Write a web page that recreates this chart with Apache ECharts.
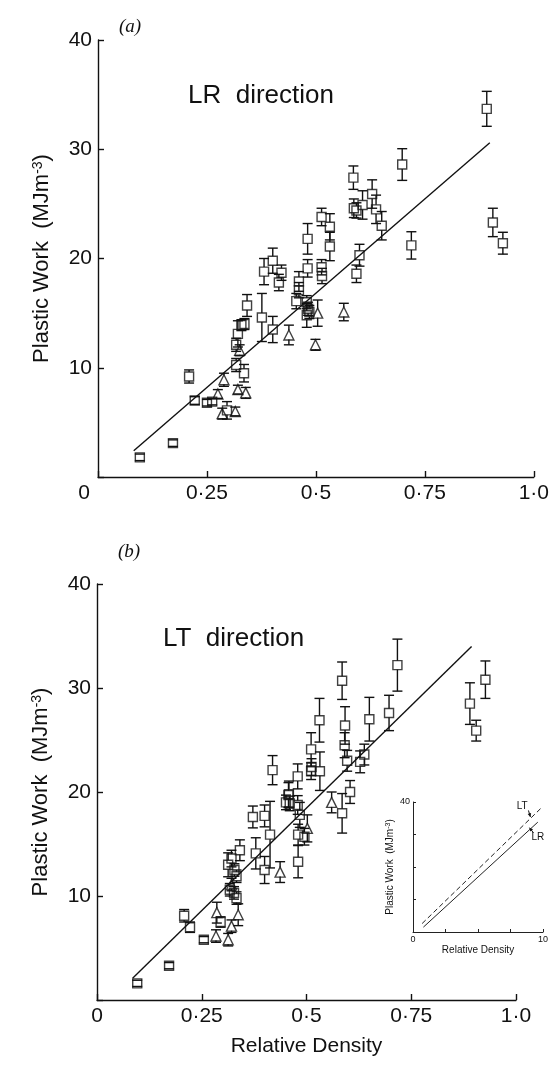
<!DOCTYPE html>
<html>
<head>
<meta charset="utf-8">
<script src="https://cdn.jsdelivr.net/npm/echarts@6/dist/echarts.min.js"></script>
<style>
  html, body { margin: 0; padding: 0; background: #ffffff; }
  #chart { width: 552px; height: 1067px; }
</style>
</head>
<body>
<div id="chart"></div>
<script>
// Shared axis ticks
const densityTicks = [0, 0.25, 0.5, 0.75, 1.0];
const densityTickLabels = ['0', '0·25', '0·5', '0·75', '1·0'];
const workTickMax = 40;
const workTickStep = 10;

// (a) LR direction — [relative density, plastic work (MJ/m3), error half-width]
const lrSquares = [
  [0.096, 1.8, 0.3], [0.172, 3.1, 0.3], [0.209, 9.2, 0.6], [0.222, 7.0, 0.35],
  [0.250, 6.8, 0.3], [0.262, 6.9, 0.3], [0.296, 6.1, 0.8], [0.317, 10.25, 0.6],
  [0.335, 9.5, 0.8], [0.317, 12.1, 0.6], [0.321, 13.1, 1.2], [0.329, 13.9, 0.5],
  [0.336, 14.0, 0.5], [0.342, 15.7, 1.0], [0.376, 14.6, 2.2], [0.401, 13.5, 1.2],
  [0.698, 28.6, 1.45], [0.586, 27.4, 1.07], [0.629, 25.9, 1.3], [0.607, 24.9, 1.3],
  [0.587, 24.6, 0.85], [0.593, 24.4, 0.7], [0.638, 24.5, 1.3], [0.651, 23.0, 1.3],
  [0.513, 23.8, 0.8], [0.532, 22.9, 1.2], [0.481, 21.8, 1.4], [0.532, 21.1, 1.3],
  [0.719, 21.2, 1.25], [0.600, 20.3, 1.0], [0.593, 18.6, 0.8], [0.401, 19.8, 1.15],
  [0.381, 18.8, 1.2], [0.421, 18.7, 0.7], [0.415, 17.8, 0.75], [0.481, 19.1, 0.8],
  [0.513, 19.2, 0.7], [0.514, 18.4, 0.7], [0.461, 17.9, 0.9], [0.461, 17.1, 0.7],
  [0.455, 16.1, 0.7], [0.479, 16.0, 0.6], [0.482, 15.4, 0.6], [0.485, 15.1, 0.6],
  [0.479, 14.8, 1.1], [0.892, 33.7, 1.6], [0.906, 23.3, 1.3], [0.929, 21.4, 1.0]
];
const lrTriangles = [
  [0.285, 5.8, 0.5], [0.289, 8.9, 0.6], [0.275, 7.6, 0.4], [0.315, 6.0, 0.4],
  [0.321, 8.0, 0.4], [0.339, 7.7, 0.5], [0.325, 11.6, 0.5], [0.438, 13.0, 0.9],
  [0.499, 12.1, 0.5], [0.504, 15.0, 1.2], [0.564, 15.1, 0.8]
];
const lrFit = [[0.082, 2.4], [0.899, 30.6]];

// (b) LT direction — [relative density, plastic work (MJ/m3), error half-width]
const ltSquares = [
  [0.096, 1.6, 0.3], [0.172, 3.3, 0.3], [0.208, 8.1, 0.6], [0.222, 7.0, 0.5],
  [0.255, 5.8, 0.3], [0.295, 7.5, 0.5], [0.333, 9.8, 0.6], [0.317, 10.6, 0.6],
  [0.327, 10.3, 0.6], [0.333, 11.9, 0.6], [0.328, 12.5, 0.6], [0.313, 13.0, 1.15],
  [0.321, 13.6, 0.8], [0.341, 14.4, 1.0], [0.372, 17.6, 1.05], [0.400, 17.7, 1.05],
  [0.413, 15.9, 3.2], [0.379, 14.1, 1.5], [0.400, 12.5, 1.3], [0.419, 22.1, 1.4],
  [0.451, 19.0, 0.7], [0.457, 19.7, 1.2], [0.460, 18.9, 0.7], [0.717, 32.2, 2.5],
  [0.585, 30.7, 1.8], [0.697, 27.6, 1.7], [0.650, 27.0, 2.1], [0.531, 26.9, 2.1],
  [0.592, 26.4, 1.8], [0.591, 24.5, 1.2], [0.638, 23.6, 1.0], [0.628, 22.9, 1.05],
  [0.597, 23.0, 1.0], [0.511, 24.1, 1.6], [0.512, 22.4, 0.8], [0.511, 22.0, 0.8],
  [0.532, 22.0, 1.85], [0.479, 21.5, 1.2], [0.458, 19.8, 1.25], [0.479, 18.75, 0.9],
  [0.484, 17.8, 1.2], [0.604, 20.0, 1.1], [0.585, 17.95, 1.9], [0.480, 15.9, 1.0],
  [0.495, 15.7, 0.8], [0.480, 13.3, 1.55], [0.890, 28.5, 2.0], [0.927, 30.8, 1.8],
  [0.905, 25.9, 1.0]
];
const ltTriangles = [
  [0.286, 8.4, 1.0], [0.284, 6.15, 0.6], [0.313, 5.8, 0.6], [0.321, 7.1, 0.6],
  [0.337, 8.2, 1.05], [0.321, 11.1, 0.6], [0.437, 12.3, 1.0], [0.560, 19.0, 1.0],
  [0.502, 16.5, 1.3]
];
const ltFit = [[0.085, 2.1], [0.894, 34.0]];

// Inset: both fitted lines together (density axis drawn 0–10)
const insetLR = [[0.8, 1.5], [9.6, 33.8]];
const insetLT = [[0.7, 2.6], [9.9, 38.3]];
const insetNotes = [
  { text: 'LT', at: [8.4, 38.6], arrow: [[8.88, 37.4], [9.03, 35.4]] },
  { text: 'LR', at: [9.6, 29.1], arrow: [[9.27, 30.5], [8.96, 32.1]] }
];

const INK = '#111111';
const SANS = '"Liberation Sans", Arial, Helvetica, sans-serif';
const SERIF = '"Liberation Serif", "Times New Roman", serif';
const BOX = 9;      // marker size in px
const CAP = 5;      // half width of error-bar caps
const STROKE = 1.4;

const chart = echarts.init(document.getElementById('chart'), null, { renderer: 'canvas' });

function tickLabel(v) {
  const i = densityTicks.indexOf(v);
  return i >= 0 ? densityTickLabels[i] : '';
}

function densityAxis(gridIndex, shiftZero, withName) {
  return {
    type: 'value', gridIndex, min: 0, max: 1, interval: 0.25,
    axisLine: { show: true, lineStyle: { color: INK, width: STROKE } },
    axisTick: { show: true, inside: true, length: 6, lineStyle: { color: INK, width: STROKE } },
    splitLine: { show: false },
    axisLabel: {
      color: INK, fontFamily: SANS, fontSize: 21, margin: 6,
      formatter: v => (v === 0 && shiftZero) ? '{z|0}' : tickLabel(v),
      rich: { z: { fontSize: 21, fontFamily: SANS, color: INK, padding: [0, 28, 0, 0] } }
    },
    name: withName ? 'Relative Density' : '',
    nameLocation: 'middle', nameGap: 36,
    nameTextStyle: { color: INK, fontFamily: SANS, fontSize: 21 }
  };
}

function workAxis(gridIndex) {
  return {
    type: 'value', gridIndex, min: 0, max: workTickMax, interval: workTickStep,
    axisLine: { show: true, lineStyle: { color: INK, width: STROKE } },
    axisTick: { show: true, inside: true, length: 6, lineStyle: { color: INK, width: STROKE } },
    splitLine: { show: false },
    axisLabel: {
      color: INK, fontFamily: SANS, fontSize: 21, margin: 6,
      formatter: v => v === 0 ? '' : String(v)
    },
    name: '{t|Plastic Work  (MJm}{s|-3}{t|)}',
    nameLocation: 'middle', nameGap: 45, nameRotate: 90,
    nameTextStyle: {
      color: INK, fontFamily: SANS, fontSize: 22,
      rich: {
        t: { fontSize: 22, fontFamily: SANS, color: INK },
        s: { fontSize: 14, fontFamily: SANS, color: INK, verticalAlign: 'top' }
      }
    }
  };
}

function errorBars(half) {
  return function (params, api) {
    const x = api.value(0), y = api.value(1), e = api.value(2);
    const mid = api.coord([x, y]);
    const top = api.coord([x, y + e])[1];
    const bot = api.coord([x, y - e])[1];
    const st = () => ({ stroke: INK, lineWidth: STROKE, fill: null });
    const kids = [
      { type: 'line', shape: { x1: mid[0] - CAP, y1: top, x2: mid[0] + CAP, y2: top }, style: st() },
      { type: 'line', shape: { x1: mid[0] - CAP, y1: bot, x2: mid[0] + CAP, y2: bot }, style: st() }
    ];
    if (top < mid[1] - half) {
      kids.push({ type: 'line', shape: { x1: mid[0], y1: top, x2: mid[0], y2: mid[1] - half }, style: st() });
    }
    if (bot > mid[1] + half) {
      kids.push({ type: 'line', shape: { x1: mid[0], y1: bot, x2: mid[0], y2: mid[1] + half }, style: st() });
    }
    return { type: 'group', children: kids };
  };
}

function panelSeries(axisIndex, squares, triangles, fit) {
  const common = { xAxisIndex: axisIndex, yAxisIndex: axisIndex, silent: true };
  return [
    Object.assign({ type: 'custom', renderItem: errorBars(BOX / 2), data: squares, z: 2 }, common),
    Object.assign({ type: 'custom', renderItem: errorBars(BOX / 2), data: triangles, z: 2 }, common),
    Object.assign({
      type: 'scatter', symbol: 'rect', symbolSize: BOX, data: squares.map(d => [d[0], d[1]]), z: 3,
      itemStyle: { color: 'rgba(0,0,0,0)', borderColor: INK, borderWidth: STROKE }
    }, common),
    Object.assign({
      type: 'scatter', symbol: 'triangle', symbolSize: BOX + 1, data: triangles.map(d => [d[0], d[1]]), z: 3,
      itemStyle: { color: 'rgba(0,0,0,0)', borderColor: INK, borderWidth: STROKE }
    }, common),
    Object.assign({
      type: 'line', data: fit, symbol: 'none', z: 4,
      lineStyle: { color: INK, width: STROKE }
    }, common)
  ];
}

const insetAxisLine = { show: true, lineStyle: { color: '#222', width: 1 } };
const insetTick = { show: true, inside: true, length: 3, lineStyle: { color: '#222', width: 1 } };

const option = {
  animation: false,
  backgroundColor: '#ffffff',
  title: [
    { text: '(a)', left: 114, top: 12, textStyle: { fontFamily: SERIF, fontStyle: 'italic', fontWeight: 'normal', fontSize: 19, color: INK } },
    { text: 'LR  direction', left: 183, top: 78, textStyle: { fontFamily: SANS, fontWeight: 'normal', fontSize: 26, color: INK } },
    { text: '(b)', left: 113, top: 537, textStyle: { fontFamily: SERIF, fontStyle: 'italic', fontWeight: 'normal', fontSize: 19, color: INK } },
    { text: 'LT  direction', left: 158, top: 621, textStyle: { fontFamily: SANS, fontWeight: 'normal', fontSize: 26, color: INK } }
  ],
  grid: [
    { left: 98, top: 40, width: 437, height: 437 },
    { left: 97, top: 584, width: 419, height: 416 },
    { left: 413, top: 802, width: 130, height: 130 }
  ],
  xAxis: [
    densityAxis(0, true, false),
    densityAxis(1, false, true),
    {
      type: 'value', gridIndex: 2, min: 0, max: 10, interval: 2.5,
      axisLine: insetAxisLine, axisTick: insetTick, splitLine: { show: false },
      axisLabel: { color: INK, fontFamily: SANS, fontSize: 9, margin: 3,
        formatter: v => (v === 0 || v === 10) ? String(v) : '' },
      name: 'Relative Density', nameLocation: 'middle', nameGap: 10,
      nameTextStyle: { color: INK, fontFamily: SANS, fontSize: 10, verticalAlign: 'top' }
    }
  ],
  yAxis: [
    workAxis(0),
    workAxis(1),
    {
      type: 'value', gridIndex: 2, min: 0, max: 40, interval: 10,
      axisLine: insetAxisLine, axisTick: insetTick, splitLine: { show: false },
      axisLabel: { color: INK, fontFamily: SANS, fontSize: 9, margin: 3,
        formatter: v => v === 40 ? '40' : '' },
      name: '{t|Plastic Work  (MJm}{s|-3}{t|)}',
      nameLocation: 'middle', nameGap: 18, nameRotate: 90,
      nameTextStyle: {
        color: INK, fontFamily: SANS, fontSize: 10,
        rich: {
          t: { fontSize: 10, fontFamily: SANS, color: INK },
          s: { fontSize: 7, fontFamily: SANS, color: INK, verticalAlign: 'top' }
        }
      }
    }
  ],
  series: [
    ...panelSeries(0, lrSquares, lrTriangles, lrFit),
    ...panelSeries(1, ltSquares, ltTriangles, ltFit),
    {
      type: 'line', xAxisIndex: 2, yAxisIndex: 2, data: insetLR, symbol: 'none', silent: true,
      lineStyle: { color: '#222', width: 1 }
    },
    {
      type: 'line', xAxisIndex: 2, yAxisIndex: 2, data: insetLT, symbol: 'none', silent: true,
      lineStyle: { color: '#222', width: 1, type: [5, 3] }
    }
  ]
};

chart.setOption(option);

// Inset annotations placed from the inset's data coordinates
const notes = [];
insetNotes.forEach(n => {
  const p = chart.convertToPixel({ gridIndex: 2 }, n.at);
  notes.push({
    type: 'text', x: p[0], y: p[1], silent: true,
    style: { text: n.text, fontFamily: SANS, fontSize: 10, fill: INK, align: 'center', verticalAlign: 'middle' }
  });
  const a = chart.convertToPixel({ gridIndex: 2 }, n.arrow[0]);
  const b = chart.convertToPixel({ gridIndex: 2 }, n.arrow[1]);
  notes.push({ type: 'line', silent: true, shape: { x1: a[0], y1: a[1], x2: b[0], y2: b[1] },
    style: { stroke: INK, lineWidth: 1 } });
  const ang = Math.atan2(b[1] - a[1], b[0] - a[0]);
  const L = 3.5, W = 1.8;
  const bx = b[0] - L * Math.cos(ang), by = b[1] - L * Math.sin(ang);
  notes.push({ type: 'polygon', silent: true,
    shape: { points: [[b[0], b[1]],
      [bx + W * Math.sin(ang), by - W * Math.cos(ang)],
      [bx - W * Math.sin(ang), by + W * Math.cos(ang)]] },
    style: { fill: INK } });
});
chart.setOption({ graphic: notes });
</script>
</body>
</html>
